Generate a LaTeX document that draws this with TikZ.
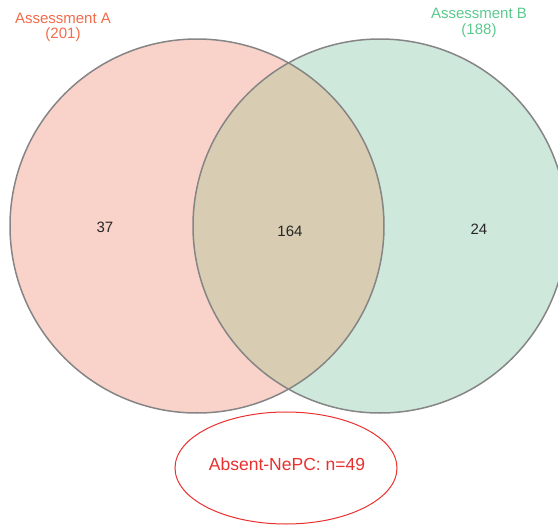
\documentclass[tikz,border=0pt]{standalone}
\usepackage{fontspec}
\setmainfont{Liberation Sans}
\definecolor{fillA}{HTML}{F9D3C9}
\definecolor{fillB}{HTML}{CFE8DC}
\definecolor{fillAB}{HTML}{D8CDB2}
\definecolor{lblA}{HTML}{F26B4A}
\definecolor{lblB}{HTML}{5CC98E}
\definecolor{redE}{HTML}{E8302E}
\definecolor{edgeG}{HTML}{858585}
\begin{document}
\begin{tikzpicture}[x=1pt,y=-1pt,
  setlbl/.style={font=\fontsize{15}{17}\selectfont, align=center, inner sep=0pt},
  countlbl/.style={font=\fontsize{15}{17}\selectfont, text=black!85, inner sep=0pt},
  ring/.style={draw=edgeG, line width=1.5pt}]
\useasboundingbox (0,0) rectangle (558,525);
\clip (0,0) rectangle (558,525);
% fills
\fill[fillA] (197,226) circle (187);
\fill[fillB] (380,226) circle (187);
\begin{scope}
  \clip (197,226) circle (187);
  \fill[fillAB] (380,226) circle (187);
\end{scope}
% outlines
\node[ring, circle, minimum size=374pt, inner sep=0pt] (A) at (197,226) {};
\node[ring, circle, minimum size=374pt, inner sep=0pt] (B) at (380,226) {};
% labels
\node[setlbl, text=lblA] (la) at (63,18) {Assessment A};
\node[setlbl, text=lblA] (lan) at (63,35) {(201)};
\node[setlbl, text=lblB] (lb) at (479,13) {Assessment B};
\node[setlbl, text=lblB] (lbn) at (479,31) {(188)};
% counts
\node[countlbl] (c1) at (105,227) {37};
\node[countlbl] (c2) at (290,231) {164};
\node[countlbl] (c3) at (479,229) {24};
% absent ellipse
\draw[redE, line width=1pt] (286,468) ellipse [x radius=111, y radius=56];
\node[font=\fontsize{17.5}{19}\selectfont, text=redE, inner sep=0pt] (abs) at (287,464) {Absent-NePC: n=49};
\end{tikzpicture}
\end{document}
